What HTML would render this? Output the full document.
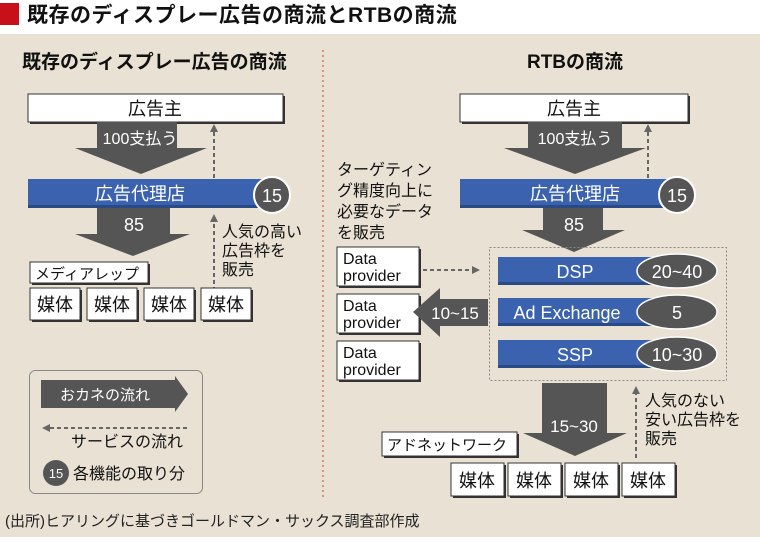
<!DOCTYPE html>
<html><head><meta charset="utf-8"><style>
html,body{margin:0;padding:0;}
body{width:760px;height:537px;overflow:hidden;background:#fff;font-family:"Liberation Sans","Noto Sans CJK JP",sans-serif;}
svg text{font-family:"Liberation Sans","Noto Sans CJK JP",sans-serif;}
</style></head><body>
<svg width="760" height="537" viewBox="0 0 760 537" xmlns="http://www.w3.org/2000/svg">
<defs>
<marker id="ah" markerWidth="8" markerHeight="8" refX="4" refY="4" orient="auto" markerUnits="userSpaceOnUse">
<path d="M0,0 L8,4 L0,8 Z" fill="#666"/></marker>
</defs>
<rect x="0" y="0" width="760" height="34" fill="#fff"/>
<rect x="0" y="3" width="19" height="22" fill="#c8101a"/>
<text x="27" y="22" font-size="21" font-weight="bold" fill="#111" letter-spacing="0.5">既存のディスプレー広告の商流とRTBの商流</text>
<rect x="0" y="34" width="760" height="503" fill="#e9e2d4"/>
<line x1="323" y1="50" x2="323" y2="500" stroke="#d04040" stroke-width="1" stroke-dasharray="2,3"/>
<text x="22" y="68" font-size="19" font-weight="bold" fill="#111">既存のディスプレー広告の商流</text>
<text x="575" y="68" font-size="19" font-weight="bold" fill="#111" text-anchor="middle">RTBの商流</text>

<!-- LEFT -->
<rect x="30" y="96" width="255" height="28" fill="#333"/>
<rect x="28" y="94" width="255" height="28" fill="#fff" stroke="#333" stroke-width="1"/>
<text x="155" y="115" font-size="18" text-anchor="middle" fill="#111">広告主</text>
<path d="M97,122 H177 V148 H207 L141,174 L75,148 H97 Z" fill="#555"/>
<text x="140" y="144" font-size="16" fill="#fff" text-anchor="middle">100支払う</text>
<line x1="214" y1="178" x2="214" y2="128" stroke="#666" stroke-width="2" stroke-dasharray="4,3" marker-end="url(#ah)"/>
<rect x="28" y="179" width="236" height="29" fill="#3a62ae"/>
<rect x="28" y="205" width="236" height="3" fill="#2a4a85"/>
<text x="140" y="200" font-size="18" fill="#fff" text-anchor="middle">広告代理店</text>
<circle cx="272" cy="195" r="18" fill="#555" stroke="#fff" stroke-width="2"/>
<text x="272" y="202" font-size="18" fill="#fff" text-anchor="middle">15</text>
<path d="M97,208 H170 V234 H190 L133,256 L75,234 H97 Z" fill="#555"/>
<text x="134" y="231" font-size="18" fill="#fff" text-anchor="middle">85</text>
<line x1="214" y1="312" x2="214" y2="218" stroke="#666" stroke-width="2" stroke-dasharray="4,3" marker-end="url(#ah)"/>
<text font-size="16" fill="#111"><tspan x="222" y="237">人気の高い</tspan><tspan x="222" y="256">広告枠を</tspan><tspan x="222" y="275">販売</tspan></text>
<rect x="32" y="264" width="118" height="21" fill="#333"/>
<rect x="30" y="262" width="118" height="21" fill="#fff" stroke="#333"/>
<text x="35" y="279" font-size="15" fill="#111">メディアレップ</text>
<g font-size="18" fill="#111">
<rect x="32" y="290" width="50" height="32" fill="#333"/><rect x="30" y="288" width="50" height="32" fill="#fff" stroke="#333"/><text x="55" y="311" text-anchor="middle">媒体</text>
<rect x="89" y="290" width="50" height="32" fill="#333"/><rect x="87" y="288" width="50" height="32" fill="#fff" stroke="#333"/><text x="112" y="311" text-anchor="middle">媒体</text>
<rect x="146" y="290" width="50" height="32" fill="#333"/><rect x="144" y="288" width="50" height="32" fill="#fff" stroke="#333"/><text x="169" y="311" text-anchor="middle">媒体</text>
<rect x="203" y="290" width="50" height="32" fill="#333"/><rect x="201" y="288" width="50" height="32" fill="#fff" stroke="#333"/><text x="226" y="311" text-anchor="middle">媒体</text>
</g>

<!-- legend -->
<rect x="29.5" y="370.5" width="173" height="123" rx="6" fill="none" stroke="#888"/>
<path d="M41,380 H175 V376 L188,394 L175,412 V408 H41 Z" fill="#555"/>
<text x="105" y="400" font-size="15" fill="#fff" text-anchor="middle">おカネの流れ</text>
<line x1="187" y1="428" x2="46" y2="428" stroke="#666" stroke-width="2" stroke-dasharray="4,3" marker-end="url(#ah)"/>
<text x="183" y="447" font-size="16" fill="#111" text-anchor="end">サービスの流れ</text>
<circle cx="56" cy="473" r="13" fill="#555"/>
<text x="56" y="478" font-size="13" fill="#fff" text-anchor="middle">15</text>
<text x="73" y="479" font-size="16" fill="#111">各機能の取り分</text>
<text x="5" y="526" font-size="15" fill="#222">(出所)ヒアリングに基づきゴールドマン・サックス調査部作成</text>

<!-- RIGHT -->
<rect x="462" y="96" width="228" height="28" fill="#333"/>
<rect x="460" y="94" width="228" height="28" fill="#fff" stroke="#333"/>
<text x="574" y="115" font-size="18" text-anchor="middle" fill="#111">広告主</text>
<path d="M528,122 H622 V148 H646 L575,174 L504,148 H528 Z" fill="#555"/>
<text x="575" y="144" font-size="16" fill="#fff" text-anchor="middle">100支払う</text>
<line x1="648" y1="178" x2="648" y2="128" stroke="#666" stroke-width="2" stroke-dasharray="4,3" marker-end="url(#ah)"/>
<rect x="460" y="179" width="208" height="29" fill="#3a62ae"/>
<rect x="460" y="205" width="208" height="3" fill="#2a4a85"/>
<text x="575" y="200" font-size="18" fill="#fff" text-anchor="middle">広告代理店</text>
<circle cx="677" cy="195" r="18" fill="#555" stroke="#fff" stroke-width="2"/>
<text x="677" y="202" font-size="18" fill="#fff" text-anchor="middle">15</text>
<path d="M543,208 H603 V230 H625 L574,252 L522,230 H543 Z" fill="#555"/>
<text x="574" y="231" font-size="18" fill="#fff" text-anchor="middle">85</text>
<text font-size="16" fill="#111"><tspan x="337" y="175">ターゲティン</tspan><tspan x="337" y="196">グ精度向上に</tspan><tspan x="337" y="217">必要なデータ</tspan><tspan x="337" y="238">を販売</tspan></text>
<rect x="489.5" y="247.5" width="237" height="133" fill="none" stroke="#888" stroke-dasharray="2,2"/>
<g>
<rect x="498" y="257" width="160" height="28" fill="#3a62ae"/><rect x="498" y="282" width="160" height="3" fill="#2a4a85"/>
<text x="575" y="278" font-size="18" fill="#fff" text-anchor="middle">DSP</text>
<ellipse cx="677" cy="271" rx="40" ry="17" fill="#555" stroke="#fff" stroke-width="1.5"/>
<text x="677" y="278" font-size="18" fill="#fff" text-anchor="middle">20~40</text>
<rect x="498" y="298" width="160" height="28" fill="#3a62ae"/><rect x="498" y="323" width="160" height="3" fill="#2a4a85"/>
<text x="567" y="319" font-size="18" fill="#fff" text-anchor="middle">Ad Exchange</text>
<ellipse cx="677" cy="312" rx="40" ry="17" fill="#555" stroke="#fff" stroke-width="1.5"/>
<text x="677" y="319" font-size="18" fill="#fff" text-anchor="middle">5</text>
<rect x="498" y="340" width="160" height="28" fill="#3a62ae"/><rect x="498" y="365" width="160" height="3" fill="#2a4a85"/>
<text x="575" y="361" font-size="18" fill="#fff" text-anchor="middle">SSP</text>
<ellipse cx="677" cy="354" rx="40" ry="17" fill="#555" stroke="#fff" stroke-width="1.5"/>
<text x="677" y="361" font-size="18" fill="#fff" text-anchor="middle">10~30</text>
</g>
<g font-size="16" fill="#111">
<rect x="339" y="249" width="82" height="39" fill="#333"/><rect x="337" y="247" width="82" height="39" fill="#fff" stroke="#333"/>
<text x="343" y="264">Data</text><text x="343" y="281">provider</text>
<rect x="339" y="296" width="82" height="39" fill="#333"/><rect x="337" y="294" width="82" height="39" fill="#fff" stroke="#333"/>
<text x="343" y="311">Data</text><text x="343" y="328">provider</text>
<rect x="339" y="343" width="82" height="39" fill="#333"/><rect x="337" y="341" width="82" height="39" fill="#fff" stroke="#333"/>
<text x="343" y="358">Data</text><text x="343" y="375">provider</text>
</g>
<line x1="423" y1="270" x2="476" y2="270" stroke="#666" stroke-width="2" stroke-dasharray="4,3" marker-end="url(#ah)"/>
<path d="M488,299 H440 V288 L413,312 L440,337 V326 H488 Z" fill="#555"/>
<text x="455" y="319" font-size="17" fill="#fff" text-anchor="middle">10~15</text>
<path d="M542,383 H607 V433 H627 L575,456 L523,433 H542 Z" fill="#555"/>
<text x="574" y="432" font-size="17" fill="#fff" text-anchor="middle">15~30</text>
<line x1="636" y1="458" x2="636" y2="390" stroke="#666" stroke-width="2" stroke-dasharray="4,3" marker-end="url(#ah)"/>
<text font-size="16" fill="#111"><tspan x="645" y="406">人気のない</tspan><tspan x="645" y="425">安い広告枠を</tspan><tspan x="645" y="444">販売</tspan></text>
<rect x="384" y="434" width="135" height="24" fill="#333"/>
<rect x="382" y="432" width="135" height="24" fill="#fff" stroke="#333"/>
<text x="387" y="450" font-size="15" fill="#111">アドネットワーク</text>
<g font-size="18" fill="#111">
<rect x="453" y="465" width="53" height="33" fill="#333"/><rect x="451" y="463" width="53" height="33" fill="#fff" stroke="#333"/><text x="477" y="487" text-anchor="middle">媒体</text>
<rect x="510" y="465" width="53" height="33" fill="#333"/><rect x="508" y="463" width="53" height="33" fill="#fff" stroke="#333"/><text x="534" y="487" text-anchor="middle">媒体</text>
<rect x="567" y="465" width="53" height="33" fill="#333"/><rect x="565" y="463" width="53" height="33" fill="#fff" stroke="#333"/><text x="591" y="487" text-anchor="middle">媒体</text>
<rect x="624" y="465" width="53" height="33" fill="#333"/><rect x="622" y="463" width="53" height="33" fill="#fff" stroke="#333"/><text x="648" y="487" text-anchor="middle">媒体</text>
</g>
</svg>
</body></html>
